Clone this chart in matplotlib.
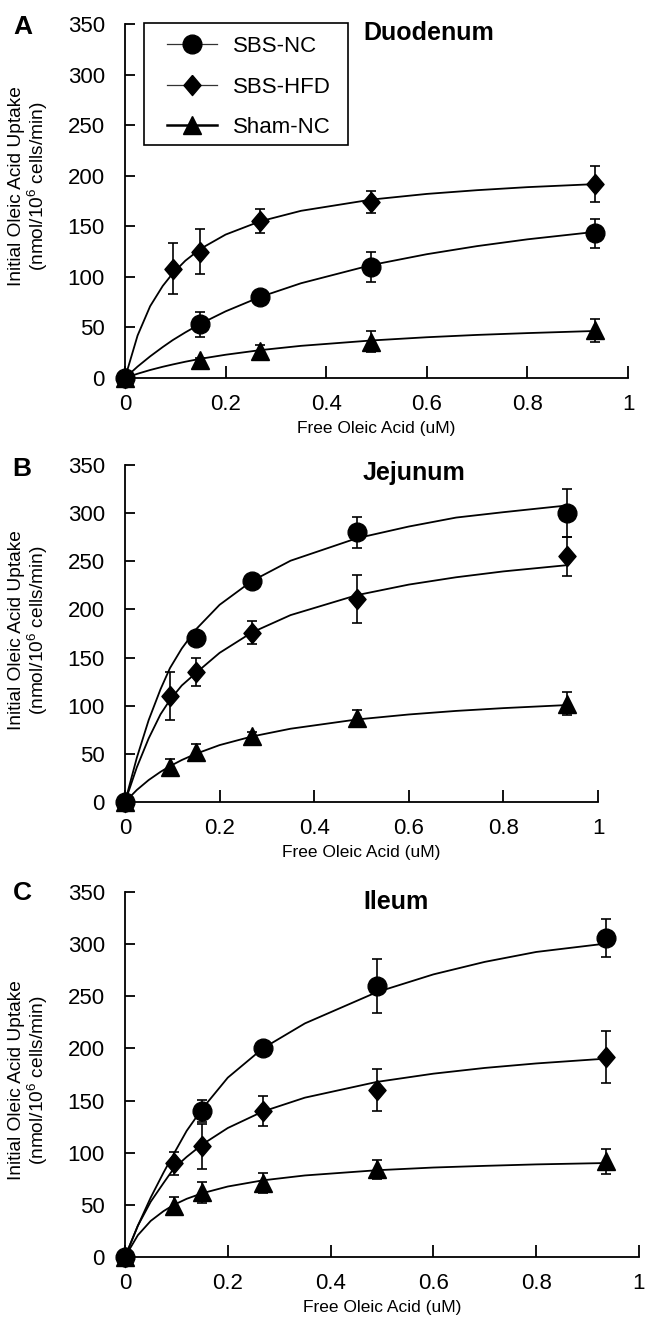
import matplotlib
matplotlib.use("Agg")
import matplotlib.pyplot as plt
from matplotlib.lines import Line2D
from matplotlib.patches import Rectangle
import numpy as np

plt.rcParams['font.family'] = ['Liberation Sans', 'DejaVu Sans']
plt.rcParams['mathtext.fontset'] = 'custom'
plt.rcParams['mathtext.rm'] = 'Liberation Sans'

nan = float('nan')

# ---------------- data ----------------
series_labels = ['SBS-NC', 'SBS-HFD', 'Sham-NC']
panel_letters = ['A', 'B', 'C']
panel_titles = ['Duodenum', 'Jejunum', 'Ileum']

x_conc = [0, 0.095, 0.15, 0.268, 0.49, 0.935]
curve_x = [0, 0.025, 0.05, 0.075, 0.095, 0.12, 0.15, 0.2, 0.268, 0.35, 0.49, 0.6, 0.7, 0.8, 0.935]

# Duodenum
duo_nc = [0, nan, 53, 80, 110, 143]
duo_nc_err = [0, nan, 12, 4, 15, 14]
duo_hfd = [0, 108, 125, 155, 174, 192]
duo_hfd_err = [0, 25, 22, 12, 11, 18]
duo_sham = [0, nan, 18, 27, 36, 47]
duo_sham_err = [0, nan, 2, 6, 10, 11]
duo_nc_fit = [0, 11.3, 21.4, 30.6, 37.5, 45.1, 53.6, 65.9, 80, 93.7, 111.7, 122.4, 130.4, 137.1, 144.5]
duo_hfd_fit = [0, 42, 71, 91, 103.5, 116, 127.7, 141.8, 154.8, 165.3, 176.4, 182, 185.7, 188.7, 191.7]
duo_sham_fit = [0, 4.2, 7.9, 11.1, 13.4, 16.1, 19, 23, 27.5, 31.8, 37.1, 40.3, 42.6, 44.4, 46.5]

# Jejunum
jej_nc = [0, nan, 170, 230, 280, 300]
jej_nc_err = [0, nan, 4, 6, 16, 25]
jej_hfd = [0, 110, 135, 176, 211, 255]
jej_hfd_err = [0, 25, 15, 12, 25, 20]
jej_sham = [0, 36, 52, 69, 87, 102]
jej_sham_err = [0, 9, 8, 4, 9, 12]
jej_nc_fit = [0, 46, 85, 117, 139, 159.4, 179.3, 204.8, 229.4, 250.6, 273.9, 286.1, 295.4, 301, 308]
jej_hfd_fit = [0, 36, 66, 91, 106, 121, 134, 154.9, 176, 194.1, 214.8, 225.8, 233.4, 239.5, 246]
jej_sham_fit = [0, 12.5, 22.8, 31.3, 37.2, 43.6, 50.1, 59.1, 68, 76.1, 85.7, 90.9, 94.6, 97.5, 100.7]

# Ileum
ile_nc = [0, nan, 140, 200, 260, 306]
ile_nc_err = [0, nan, 11, 6, 26, 18]
ile_hfd = [0, 90, 106, 140, 160, 192]
ile_hfd_err = [0, 11, 22, 14, 20, 25]
ile_sham = [0, 49, 62, 71, 84, 92]
ile_sham_err = [0, 9, 10, 10, 9, 12]
ile_nc_fit = [0, 30, 57, 81, 99, 121, 142, 172, 200, 224, 254, 271, 283, 292.5, 300.5]
ile_hfd_fit = [0, 30, 53, 71, 85, 96, 107.8, 123.7, 139.5, 152.8, 167.9, 175.8, 181.3, 185.6, 190.2]
ile_sham_fit = [0, 20.9, 34.6, 44, 50, 55.8, 61.1, 67.6, 73.5, 78.2, 83.2, 85.8, 87.4, 88.8, 90.1]

panels = [
    (duo_nc, duo_nc_err, duo_nc_fit, duo_hfd, duo_hfd_err, duo_hfd_fit, duo_sham, duo_sham_err, duo_sham_fit),
    (jej_nc, jej_nc_err, jej_nc_fit, jej_hfd, jej_hfd_err, jej_hfd_fit, jej_sham, jej_sham_err, jej_sham_fit),
    (ile_nc, ile_nc_err, ile_nc_fit, ile_hfd, ile_hfd_err, ile_hfd_fit, ile_sham, ile_sham_err, ile_sham_fit),
]

y_ticks = [0, 50, 100, 150, 200, 250, 300, 350]
x_ticks = [0, 0.2, 0.4, 0.6, 0.8, 1.0]
x_ticklabels = ['0', '0.2', '0.4', '0.6', '0.8', '1']

# ---------------- layout ----------------
W, H = 645, 1320
fig = plt.figure(figsize=(W / 100, H / 100), dpi=100)

# pixel boxes (left, right, top, bottom)
boxes = [(125, 628, 24, 378), (125, 598, 465, 802), (125, 639, 892, 1257)]
letter_pos = [(23, 27), (22, 469), (22, 893)]
title_y = [33, 473, 902]
ylabel_cy = [186, 630, 1080]

diamond = [(0, 1), (0.85, 0), (0, -1), (-0.85, 0), (0, 1)]
mk = {'o': dict(marker='o', ms=13.5), 'D': dict(marker=diamond, ms=14.5), '^': dict(marker='^', ms=13)}
lw = 1.3

for i, (l, r, t, b) in enumerate(boxes):
    ax = fig.add_axes([l / W, 1 - b / H, (r - l) / W, (b - t) / H])
    (nc, nce, ncf, hfd, hfde, hfdf, sh, she, shf) = panels[i]
    order = [(sh, she, shf, '^'), (hfd, hfde, hfdf, 'D'), (nc, nce, ncf, 'o')]
    for k, (y, e, f, m) in enumerate(order):
        ax.plot(curve_x, f, color='k', lw=lw, zorder=2 + k * 0.1, clip_on=False)
        ax.errorbar(x_conc, y, yerr=e, fmt='none', ecolor='k', elinewidth=1.2,
                    capsize=3.3, capthick=1.2, zorder=3 + k * 0.1, clip_on=False)
        ax.plot(x_conc, y, ls='none', color='k', mec='k', zorder=4 + k * 0.1,
                clip_on=False, **mk[m])
    ax.set_xlim(0, 1)
    ax.set_ylim(0, 350)
    ax.set_xticks(x_ticks)
    ax.set_xticklabels(x_ticklabels)
    ax.set_yticks(y_ticks)
    for s in ['top', 'right']:
        ax.spines[s].set_visible(False)
    for s in ['left', 'bottom']:
        ax.spines[s].set_linewidth(1.3)
    ax.tick_params(axis='both', direction='in', width=1.3, labelsize=16)
    ax.tick_params(axis='y', length=7.5, pad=14.5)
    ax.tick_params(axis='x', length=8.3, pad=11.5)
    ax.set_xlabel('Free Oleic Acid (uM)', fontsize=12.5, labelpad=4.5)
    ax.patch.set_alpha(0)

    fig.text(29 / W, 1 - ylabel_cy[i] / H,
             'Initial Oleic Acid Uptake\n(nmol/10$^{\\mathrm{6}}$ cells/min)',
             rotation=90, ha='center', va='center', fontsize=13.8,
             linespacing=1.02, multialignment='center')
    fig.text(letter_pos[i][0] / W, 1 - letter_pos[i][1] / H, panel_letters[i],
             fontsize=19, fontweight='bold', ha='center', va='center')
    fig.text(363 / W, 1 - title_y[i] / H, panel_titles[i], fontsize=18,
             fontweight='bold', ha='left', va='center')

    if i == 0:
        handles = [
            Line2D([], [], color='#333333', lw=0.9, **mk['o']),
            Line2D([], [], color='#333333', lw=0.9, **mk['D']),
            Line2D([], [], color='k', lw=1.8, **mk['^']),
        ]
        for h in handles:
            h.set_markerfacecolor('k')
            h.set_markeredgecolor('k')
        frame = Rectangle((144 / W, 1 - 145 / H), (348 - 144) / W, (145 - 23) / H,
                          transform=fig.transFigure, fill=True, facecolor='white',
                          edgecolor='k', lw=1.2, zorder=9, clip_on=False)
        ax.add_artist(frame)
        leg = ax.legend(handles, series_labels, loc='upper left',
                        bbox_to_anchor=(167 / W, 1 - 36 / H),
                        bbox_transform=fig.transFigure, fontsize=16,
                        frameon=False, borderpad=0, labelspacing=0.88,
                        handlelength=2.25, handletextpad=0.72, borderaxespad=0)
        leg.set_zorder(10)

fig.savefig('out.png', dpi=100)
